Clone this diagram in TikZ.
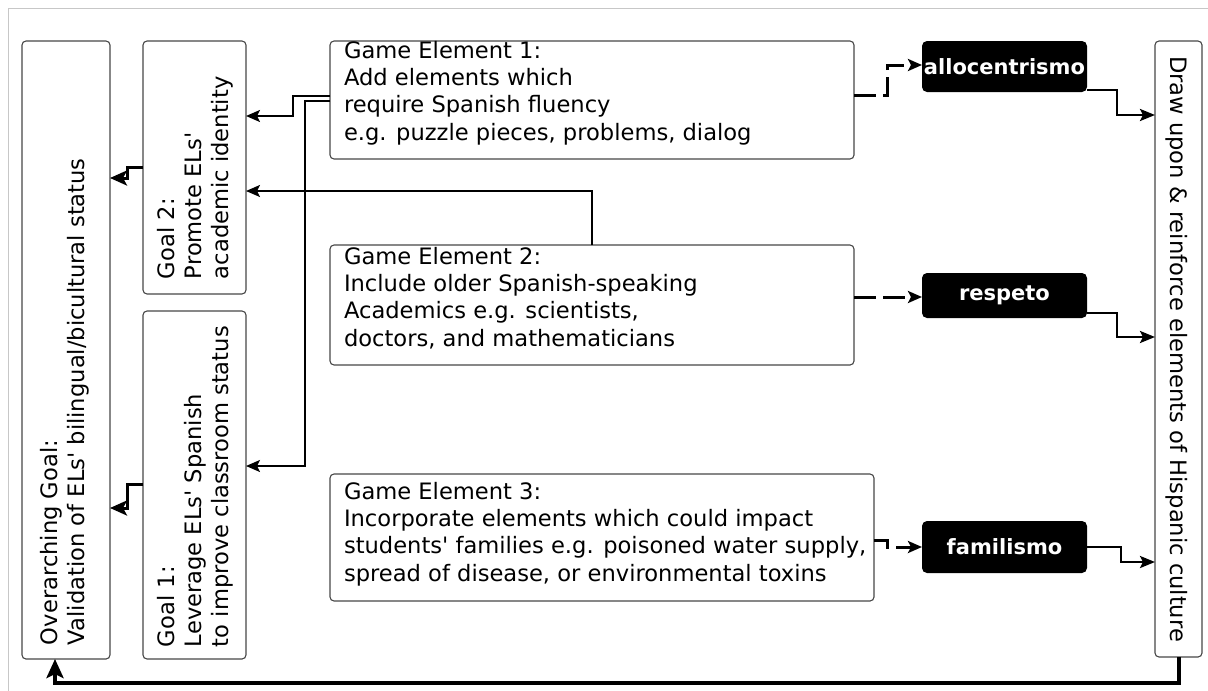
\documentclass[tikz,border=0pt]{standalone}
\usepackage{fontspec}
\setmainfont{DejaVu Sans}
\usetikzlibrary{arrows.meta}
\newcommand\myq{\textquotesingle}
\begin{document}
\begin{tikzpicture}[x=1pt,y=-1pt,
  every node/.style={inner sep=0pt,outer sep=0pt},
  box/.style={draw=black!72,line width=1.1pt,rounded corners=4pt,fill=white,anchor=north west},
  blk/.style={fill=black,rounded corners=5pt,anchor=north west,text=white,font=\bfseries\fontsize{21}{25}\selectfont},
  txt/.style={align=left,font=\fontsize{22.6}{27.3}\selectfont,anchor=north west},
  con/.style={line width=2pt,-{Stealth[length=14pt,width=12pt,inset=3pt]}},
  thk/.style={line width=3pt,-{Stealth[length=17pt,width=15pt,inset=4pt]}},
  dsh/.style={line width=3pt,dash pattern=on 22pt off 7pt,-{Stealth[length=14pt,width=12pt,inset=3pt]}},
  rc/.style={line width=2.5pt,-{Stealth[length=15pt,width=12pt,inset=3pt]}},
  btm/.style={line width=4pt,-{Stealth[length=19pt,width=17pt,inset=4pt]}}
]
\useasboundingbox (0,0) rectangle (1208,691);
\draw[black!22,line width=1pt] (8,8) rectangle (1240,730);

% boxes
\node[box,minimum width=88,minimum height=618] (over) at (22,41) {};
\node[box,minimum width=103,minimum height=253] (goal2) at (143,41) {};
\node[box,minimum width=103,minimum height=348] (goal1) at (143,311) {};
\node[box,minimum width=524,minimum height=118] (ge1) at (330,41) {};
\node[box,minimum width=524,minimum height=120] (ge2) at (330,245) {};
\node[box,minimum width=544,minimum height=127] (ge3) at (330,474) {};
\node[box,minimum width=47,minimum height=616] (drw) at (1155,41) {};
\node[blk,minimum width=165,minimum height=51] (allo) at (922,41) {allocentrismo};
\node[blk,minimum width=165,minimum height=45] (resp) at (922,273) {respeto};
\node[blk,minimum width=165,minimum height=52] (fam) at (922,521) {familismo};

% texts
\node[txt] (ge1t) at (344,41) {Game Element 1:\\Add elements which\\require Spanish fluency\\e.g. puzzle pieces, problems, dialog};
\node[txt] (ge2t) at (344,247) {Game Element 2:\\Include older Spanish-speaking\\Academics e.g. scientists,\\doctors, and mathematicians};
\node[txt] (ge3t) at (344,482) {Game Element 3:\\Incorporate elements which could impact\\students\myq{} families e.g. poisoned water supply,\\spread of disease, or environmental toxins};
\node[txt,rotate=90] (g2t) at (157,279) {Goal 2:\\Promote ELs\myq\\academic identity};
\node[txt,rotate=90] (g1t) at (157,647) {Goal 1:\\Leverage ELs\myq{} Spanish\\to improve classroom status};
\node[txt,rotate=90] (ovt) at (40,645) {Overarching Goal:\\Validation of ELs\myq{} bilingual/bicultural status};
\node[font=\fontsize{22.6}{27.3}\selectfont,rotate=-90] (drt) at (1177,349) {Draw upon \& reinforce elements of Hispanic culture};

% connectors
\draw[con] (ge1.west |- 0,96) -- (293,96) -- (293,116) -- (goal2.east |- 0,116);
\draw[con] (ge1.west |- 0,101) -- (305,101) -- (305,466) -- (goal1.east |- 0,466);
\draw[con] (ge2.north -| 592,0) -- (592,191) -- (goal2.east |- 0,191);
\draw[thk] (goal2.west |- 0,167) -- (127,167) -- (127,178) -- (over.east |- 0,178);
\draw[thk] (goal1.west |- 0,484) -- (127,484) -- (127,508) -- (over.east |- 0,508);
\draw[dsh] (ge1.east |- 0,95) -- (887,95) -- (887,65) -- (allo.west |- 0,65);
\draw[dsh] (ge2.east |- 0,297) -- (resp.west |- 0,297);
\draw[dsh] (ge3.east |- 0,540) -- (887,540) -- (887,547) -- (fam.west |- 0,547);
\draw[rc] (allo.east |- 0,90) -- (1117,90) -- (1117,115) -- (drw.west |- 0,115);
\draw[rc] (resp.east |- 0,313) -- (1117,313) -- (1117,337) -- (drw.west |- 0,337);
\draw[rc] (fam.east |- 0,547) -- (1121,547) -- (1121,562) -- (drw.west |- 0,562);
\draw[btm] (drw.south -| 1179,0) -- (1179,683) -- (55,683) -- (over.south -| 55,0);
\end{tikzpicture}
\end{document}
